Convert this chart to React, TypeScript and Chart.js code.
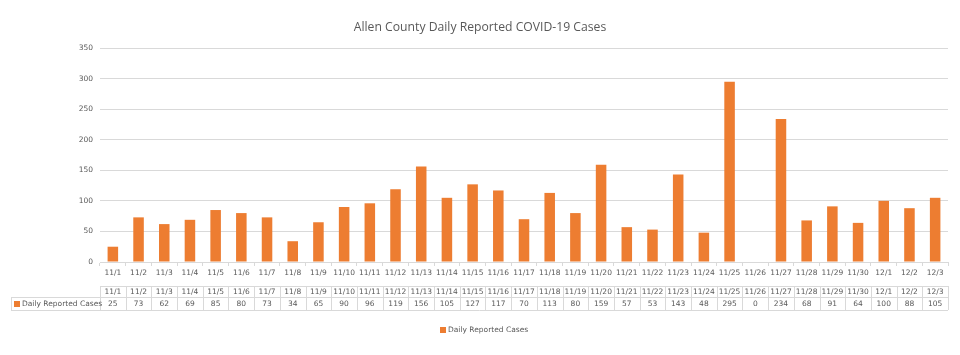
import React, { useEffect, useRef } from "react";
import { Chart, registerables } from "chart.js";

Chart.register(...registerables);

const categories = ["11/1","11/2","11/3","11/4","11/5","11/6","11/7","11/8","11/9","11/10","11/11","11/12","11/13","11/14","11/15","11/16","11/17","11/18","11/19","11/20","11/21","11/22","11/23","11/24","11/25","11/26","11/27","11/28","11/29","11/30","12/1","12/2","12/3"];
const cases = [25,73,62,69,85,80,73,34,65,90,96,119,156,105,127,117,70,113,80,159,57,53,143,48,295,0,234,68,91,64,100,88,105];
const seriesName = "Daily Reported Cases";
const chartTitle = "Allen County Daily Reported COVID-19 Cases";

const ORANGE = "#ED7D31";
const GRID = "#D9D9D9";
const TEXT = "#595959";
const FONT = "'DejaVu Sans', Verdana, sans-serif";
const FS = 7.5;

const tablePlugin = {
  id: "dataTable",
  afterDraw(chart: any) {
    const ctx = chart.ctx;
    const x = chart.scales.x;
    const area = chart.chartArea;
    const n = categories.length;
    const half = (x.getPixelForValue(1) - x.getPixelForValue(0)) / 2;
    const left = area.left;
    const right = area.right;
    const rowTop = area.bottom + 24;
    const rowMid = rowTop + 11;
    const rowBot = rowMid + 13;
    const labelLeft = 11;
    ctx.save();
    // title
    ctx.fillStyle = TEXT;
    ctx.font = "12.2px 'Open Sans', sans-serif";
    ctx.textAlign = "center";
    ctx.textBaseline = "middle";
    ctx.fillText(chartTitle, 480, 28);
    // table lines
    ctx.strokeStyle = GRID;
    ctx.lineWidth = 1;
    ctx.beginPath();
    ctx.moveTo(left, rowTop + 0.5); ctx.lineTo(right, rowTop + 0.5);
    ctx.moveTo(labelLeft, rowMid + 0.5); ctx.lineTo(right, rowMid + 0.5);
    ctx.moveTo(labelLeft, rowBot + 0.5); ctx.lineTo(right, rowBot + 0.5);
    ctx.moveTo(labelLeft + 0.5, rowMid); ctx.lineTo(labelLeft + 0.5, rowBot);
    for (let i = 0; i <= n; i++) {
      const px = Math.round(x.getPixelForValue(0) - half + i * 2 * half) + 0.5;
      ctx.moveTo(px, rowTop); ctx.lineTo(px, rowBot);
    }
    ctx.stroke();
    // texts
    ctx.font = FS + "px " + FONT;
    ctx.fillStyle = TEXT;
    ctx.textAlign = "center";
    for (let i = 0; i < n; i++) {
      const cx = x.getPixelForValue(i);
      ctx.fillText(categories[i], cx, (rowTop + rowMid) / 2 + 1);
      ctx.fillText(String(cases[i]), cx, (rowMid + rowBot) / 2 + 1);
    }
    // label cell
    ctx.fillStyle = ORANGE;
    ctx.fillRect(14, rowMid + 4, 6, 6);
    ctx.fillStyle = TEXT;
    ctx.textAlign = "left";
    ctx.fillText(seriesName, 22, (rowMid + rowBot) / 2 + 1);
    // legend
    ctx.fillStyle = ORANGE;
    ctx.fillRect(440, 327, 6, 6);
    ctx.fillStyle = TEXT;
    ctx.fillText(seriesName, 448, 330.5);
    ctx.restore();
  },
};

export default function App() {
  const ref = useRef<HTMLCanvasElement | null>(null);
  useEffect(() => {
    document.body.style.margin = "0";
    const chart = new Chart(ref.current as HTMLCanvasElement, {
      type: "bar",
      data: {
        labels: categories,
        datasets: [
          {
            label: seriesName,
            data: cases,
            backgroundColor: ORANGE,
            categoryPercentage: 1,
            barPercentage: 0.41,
          },
        ],
      },
      options: {
        animation: false,
        responsive: false,
        layout: { padding: { left: 0, right: 12, top: 48, bottom: 0 } },
        plugins: { legend: { display: false }, title: { display: false }, tooltip: { enabled: false } },
        scales: {
          x: {
            grid: { drawOnChartArea: false, drawTicks: true, tickLength: 4, color: GRID, offset: true },
            border: { color: GRID },
            ticks: { font: { family: FONT, size: FS }, color: TEXT, maxRotation: 0, autoSkip: false, padding: 3 },
            afterFit(scale: any) { scale.height = 93; },
          },
          y: {
            min: 0,
            max: 350,
            ticks: { stepSize: 50, font: { family: FONT, size: FS }, color: TEXT, padding: 7 },
            grid: { color: GRID, drawTicks: false },
            border: { display: false },
            afterFit(scale: any) { scale.width = 100; },
          },
        },
      },
      plugins: [tablePlugin],
    });
    return () => chart.destroy();
  }, []);
  return (
    <div style={{ position: "absolute", left: 0, top: 0, width: 960, height: 355 }}>
      <canvas ref={ref} width={960} height={355} />
    </div>
  );
}
